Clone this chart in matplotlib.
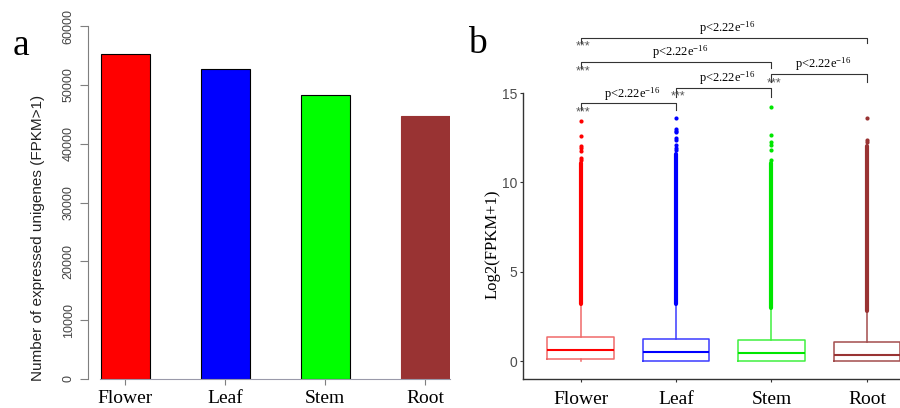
import matplotlib
matplotlib.use('Agg')
import matplotlib.pyplot as plt

plt.rcParams['mathtext.fontset'] = 'custom'
plt.rcParams['mathtext.rm'] = 'Liberation Serif'
plt.rcParams['mathtext.it'] = 'Liberation Serif:italic'

SERIF = 'Liberation Serif'
SANS = 'Liberation Sans'

# ---- data: panel a ----
tissues = ['Flower', 'Leaf', 'Stem', 'Root']
expressed_counts = [55300, 52650, 48200, 44750]
bar_colors = ['#ff0000', '#0000ff', '#00ff00', '#993333']
y_ticks_a = [0, 10000, 20000, 30000, 40000, 50000, 60000]

# ---- data: panel b (boxplot summary, log2(FPKM+1)) ----
q1 = [0.12, 0.0, 0.0, 0.0]
medians = [0.61, 0.51, 0.47, 0.35]
q3 = [1.35, 1.26, 1.16, 1.06]
whisker_lo = [0.0, 0.0, 0.0, 0.0]
whisker_hi = [3.17, 3.17, 2.93, 2.72]
# outliers: dense column (lo..hi) plus the sparse points above it
dense_lo = [3.22, 3.22, 2.98, 2.78]
dense_hi = [11.1, 11.6, 11.06, 12.03]
sparse_flower = [13.45, 12.6, 12.05, 11.9, 11.77, 11.36, 11.25]
sparse_leaf = [13.6, 13.0, 12.9, 12.8, 12.46, 12.37, 12.09, 11.95, 11.8]
sparse_stem = [14.2, 12.65, 12.27, 12.09, 11.8, 11.25]
sparse_root = [13.58, 12.4, 12.25]
sparse_outliers = [sparse_flower, sparse_leaf, sparse_stem, sparse_root]
y_ticks_b = [0, 5, 10, 15]

box_edge = ['#f06a6a', '#3b3bff', '#40f040', '#a34d4d']
box_median = ['#ff0000', '#0000ff', '#00e600', '#993333']

# pairwise comparisons (group i, group j), bracket height, tip drop
comparisons = [(0, 1), (1, 2), (2, 3), (0, 2), (0, 3)]
bracket_y = [14.42, 15.29, 16.06, 16.73, 18.09]
bracket_tip = [0.37, 0.5, 0.43, 0.35, 0.3]
p_label = r'p<2.22e$^{-16}$'

W, H = 900, 408
fig = plt.figure(figsize=(W / 100, H / 100), dpi=100)


def px_axes(x0, y0, x1, y1):
    # axes rectangle given in pixel coords (origin top-left)
    return fig.add_axes([x0 / W, 1 - y1 / H, (x1 - x0) / W, (y1 - y0) / H])


# ================= panel a =================
ax = px_axes(88, 26, 450, 379)
xs = list(range(len(tissues)))
edges = ['black', 'black', 'black', bar_colors[3]]
ax.bar(xs, expressed_counts, width=0.49, color=bar_colors,
       edgecolor=edges, linewidth=0.8, zorder=2)
ax.set_xlim(-0.37, 3.25)
ax.set_ylim(0, 60000)
ax.set_yticks(y_ticks_a)
ax.set_yticklabels([str(v) for v in y_ticks_a], rotation=90, va='center',
                   family=SANS, fontsize=9, color='#444444')
ax.set_xticks(xs)
ax.set_xticklabels(tissues, family=SERIF, fontsize=14)
ax.tick_params(axis='y', length=5.5, width=0.8, color='#7f7f7f', pad=4)
ax.tick_params(axis='x', length=4, width=0.8, color='#7f7f7f', pad=4)
for s in ['top', 'right']:
    ax.spines[s].set_visible(False)
ax.spines['left'].set_bounds(0, 60000)
ax.spines['left'].set_color('#7f7f7f')
ax.spines['bottom'].set_bounds(-0.25, 3.25)
ax.spines['bottom'].set_color('#9a9aaa')
ax.spines['bottom'].set_zorder(3)
ax.set_ylabel('Number of expressed unigenes (FPKM>1)', family=SANS,
              fontsize=11, color='#222222')
ax.yaxis.set_label_coords(-0.119, 0.40)
fig.text(13 / W, 1 - 55 / H, 'a', family=SERIF, fontsize=27)

# ================= panel b =================
bx = px_axes(523.3, 21.6, 924.2, 379)
bx.set_xlim(-0.6, 3.6)
bx.set_ylim(-1, 19)

for i in range(len(tissues)):
    stats = [dict(q1=q1[i], med=medians[i], q3=q3[i],
                  whislo=whisker_lo[i], whishi=whisker_hi[i], fliers=[])]
    bx.bxp(stats, positions=[i], widths=0.7, showcaps=False,
           showfliers=False, patch_artist=False,
           boxprops=dict(color=box_edge[i], linewidth=1.1),
           whiskerprops=dict(color=box_edge[i], linewidth=1.1),
           medianprops=dict(color=box_median[i], linewidth=1.5))
    bx.vlines(i, dense_lo[i], dense_hi[i], color=box_median[i],
              linewidth=3.0, capstyle='round', zorder=3)
    bx.scatter([i] * len(sparse_outliers[i]), sparse_outliers[i], s=9,
               color=box_median[i], linewidths=0, zorder=3)

for (a, b), yb, tip in zip(comparisons, bracket_y, bracket_tip):
    bx.plot([a, a, b, b], [yb - tip, yb, yb, yb - tip], color='#333333',
            linewidth=0.8, clip_on=False)
    bx.text((a + b) / 2 + 0.04, yb + 0.05, p_label, ha='center', va='bottom',
            family=SERIF, fontsize=9)
    bx.text(a + 0.025, yb - 0.5, '***', ha='center', va='center',
            family=SANS, fontsize=9, color='#555555')

bx.set_yticks(y_ticks_b)
bx.set_yticklabels([str(v) for v in y_ticks_b], family=SANS, fontsize=10,
                   color='#4d4d4d')
bx.set_xticks(xs)
bx.set_xticklabels(tissues, family=SERIF, fontsize=14)
bx.tick_params(axis='both', length=2.5, width=0.8, color='#333333')
bx.tick_params(axis='x', pad=6)
bx.tick_params(axis='y', pad=2)
for s in ['top', 'right']:
    bx.spines[s].set_visible(False)
bx.spines['left'].set_bounds(-1, 15)
for s in ['left', 'bottom']:
    bx.spines[s].set_color('#333333')
    bx.spines[s].set_linewidth(1.0)
bx.set_ylabel('Log2(FPKM+1)', family=SERIF, fontsize=12)
bx.yaxis.set_label_coords(-0.056, 0.378)
fig.text(468 / W, 1 - 53 / H, 'b', family=SERIF, fontsize=27)

fig.savefig('out.png', dpi=100)
